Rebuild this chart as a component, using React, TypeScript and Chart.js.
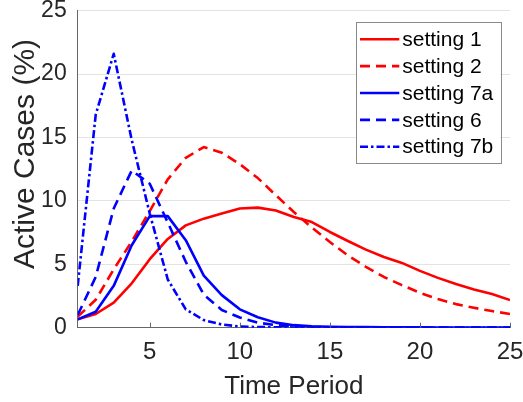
import React, { useEffect, useRef } from 'react';
import { Chart, registerables } from 'chart.js';

Chart.register(...registerables);

// ---- data ----
const periods = [1, 2, 3, 4, 5, 6, 7, 8, 9, 10, 11, 12, 13, 14, 15, 16, 17, 18, 19, 20, 21, 22, 23, 24, 25];
const seriesNames = ['setting 1', 'setting 2', 'setting 7a', 'setting 6', 'setting 7b'];
const setting1 = [0.66, 1.08, 1.97, 3.5, 5.4, 7.0, 8.07, 8.6, 9.0, 9.4, 9.47, 9.25, 8.73, 8.33, 7.55, 6.84, 6.16, 5.58, 5.11, 4.48, 3.93, 3.44, 3.02, 2.65, 2.18];
const setting2 = [0.87, 2.2, 4.6, 6.8, 9.2, 11.7, 13.4, 14.25, 13.8, 12.9, 11.8, 10.45, 9.12, 7.9, 6.76, 5.7, 4.8, 4.0, 3.36, 2.75, 2.26, 1.86, 1.57, 1.31, 1.08];
const setting7a = [0.66, 1.26, 3.3, 6.5, 8.8, 8.8, 6.9, 4.1, 2.57, 1.45, 0.82, 0.4, 0.2, 0.12, 0.08, 0.06, 0.05, 0.04, 0.03, 0.03, 0.02, 0.02, 0.02, 0.02, 0.02];
const setting6 = [1.0, 4.0, 9.4, 12.4, 11.35, 8.3, 5.2, 2.6, 1.4, 0.8, 0.4, 0.2, 0.1, 0.06, 0.04, 0.03, 0.02, 0.02, 0.01, 0.01, 0.01, 0.01, 0.01, 0.01, 0.01];
const setting7b = [3.3, 16.8, 21.6, 14.8, 9.0, 3.8, 1.45, 0.6, 0.25, 0.1, 0.05, 0.03, 0.02, 0.01, 0.01, 0.01, 0.0, 0.0, 0.0, 0.0, 0.0, 0.0, 0.0, 0.0, 0.0];
const xTickValues = [5, 10, 15, 20, 25];
const xTitle = 'Time Period';
const yTitle = 'Active Cases (%)';

const FONT = '"Liberation Sans", Arial, Helvetica, sans-serif';
const AXIS_COLOR = '#666666';
const TEXT_COLOR = '#262626';

const toPoints = (vals: number[]) => periods.map((p, i) => ({ x: p, y: vals[i] }));

const boxLegend = {
  id: 'boxLegend',
  afterDraw(chart: any) {
    const { ctx, chartArea } = chart;
    const left = chartArea.right - 154.3;
    const top = chartArea.top + 11;
    const w = 144.6;
    const h = 140.6;
    const rowH = 26.85;
    ctx.save();
    ctx.fillStyle = '#ffffff';
    ctx.fillRect(left, top, w, h);
    ctx.strokeStyle = '#8a8a8a';
    ctx.lineWidth = 1;
    ctx.setLineDash([]);
    ctx.strokeRect(Math.round(left) + 0.5, Math.round(top) + 0.5, Math.round(w), Math.round(h));
    chart.data.datasets.forEach((ds: any, i: number) => {
      const cy = top + 17.6 + i * rowH;
      ctx.beginPath();
      ctx.setLineDash(ds.borderDash || []);
      ctx.strokeStyle = ds.borderColor;
      ctx.lineWidth = ds.borderWidth;
      ctx.moveTo(left + 4.3, cy);
      ctx.lineTo(left + 43.6, cy);
      ctx.stroke();
      ctx.setLineDash([]);
      ctx.fillStyle = '#000000';
      ctx.font = '21px ' + FONT;
      ctx.textBaseline = 'middle';
      ctx.textAlign = 'left';
      ctx.fillText(ds.label, left + 46.5, cy + 1);
    });
    ctx.restore();
  },
};

const axisExtras = {
  id: 'axisExtras',
  afterDatasetsDraw(chart: any) {
    const { ctx, chartArea, scales } = chart;
    ctx.save();
    // inward x tick marks
    ctx.strokeStyle = AXIS_COLOR;
    ctx.lineWidth = 1;
    ctx.setLineDash([]);
    scales.x.ticks.forEach((t: any) => {
      const px = Math.round(scales.x.getPixelForValue(t.value)) + 0.5;
      ctx.beginPath();
      ctx.moveTo(px, chartArea.bottom);
      ctx.lineTo(px, chartArea.bottom - 5);
      ctx.stroke();
    });
    // y axis title
    const cx = chartArea.left - 51.5;
    const cy = chartArea.top + (chartArea.bottom - chartArea.top) * 0.452;
    ctx.translate(cx, cy);
    ctx.rotate(-Math.PI / 2);
    ctx.fillStyle = TEXT_COLOR;
    ctx.font = '30px ' + FONT;
    ctx.textAlign = 'center';
    ctx.textBaseline = 'middle';
    ctx.fillText(yTitle, 0, 0);
    ctx.restore();
  },
};

export default function App() {
  const ref = useRef<HTMLCanvasElement | null>(null);

  useEffect(() => {
    document.body.style.margin = '0';
    const canvas = ref.current;
    if (!canvas) return;
    const mk = (label: string, vals: number[], color: string, dash: number[], order: number) => ({
      label,
      data: toPoints(vals),
      borderColor: color,
      backgroundColor: color,
      borderWidth: 2.6,
      borderDash: dash,
      borderJoinStyle: 'round' as const,
      pointRadius: 0,
      pointHoverRadius: 0,
      fill: false,
      tension: 0,
      order,
    });
    const chart = new Chart(canvas, {
      type: 'line',
      data: {
        datasets: [
          mk(seriesNames[0], setting1, '#ff0000', [], 5),
          mk(seriesNames[1], setting2, '#ff0000', [10, 6], 4),
          mk(seriesNames[2], setting7a, '#0000ff', [], 3),
          mk(seriesNames[3], setting6, '#0000ff', [10, 6], 2),
          mk(seriesNames[4], setting7b, '#0000ff', [8, 3, 2.5, 3], 1),
        ],
      },
      options: {
        responsive: false,
        animation: false,
        layout: { padding: 0 },
        plugins: { legend: { display: false }, tooltip: { enabled: false } },
        scales: {
          x: {
            type: 'linear',
            min: 1,
            max: 25,
            afterBuildTicks: (scale: any) => {
              scale.ticks = xTickValues.map((v) => ({ value: v }));
            },
            afterFit: (scale: any) => {
              scale.height = 74.3;
              scale.paddingLeft = 0;
              scale.paddingRight = 13;
            },
            grid: { display: false, drawTicks: false },
            border: { display: true, color: AXIS_COLOR, width: 1 },
            ticks: {
              color: TEXT_COLOR,
              font: { family: FONT, size: 24 },
              padding: 10,
              maxRotation: 0,
              autoSkip: false,
            },
            title: {
              display: true,
              text: xTitle,
              color: TEXT_COLOR,
              font: { family: FONT, size: 26 },
              padding: { top: 0, bottom: 0 },
            },
          },
          y: {
            type: 'linear',
            min: 0,
            max: 25,
            afterFit: (scale: any) => {
              scale.width = 77.7;
              scale.paddingTop = 10.7;
              scale.paddingBottom = 0;
            },
            grid: { color: '#e3e3e3', lineWidth: 1, drawTicks: false },
            border: { display: true, color: AXIS_COLOR, width: 1 },
            ticks: {
              stepSize: 5,
              color: TEXT_COLOR,
              font: { family: FONT, size: 23 },
              padding: 11,
            },
          },
        },
      },
      plugins: [axisExtras, boxLegend],
    });
    return () => chart.destroy();
  }, []);

  return (
    <div style={{ width: 523, height: 402, background: '#ffffff' }}>
      <canvas ref={ref} width={523} height={402} style={{ display: 'block' }} />
    </div>
  );
}
